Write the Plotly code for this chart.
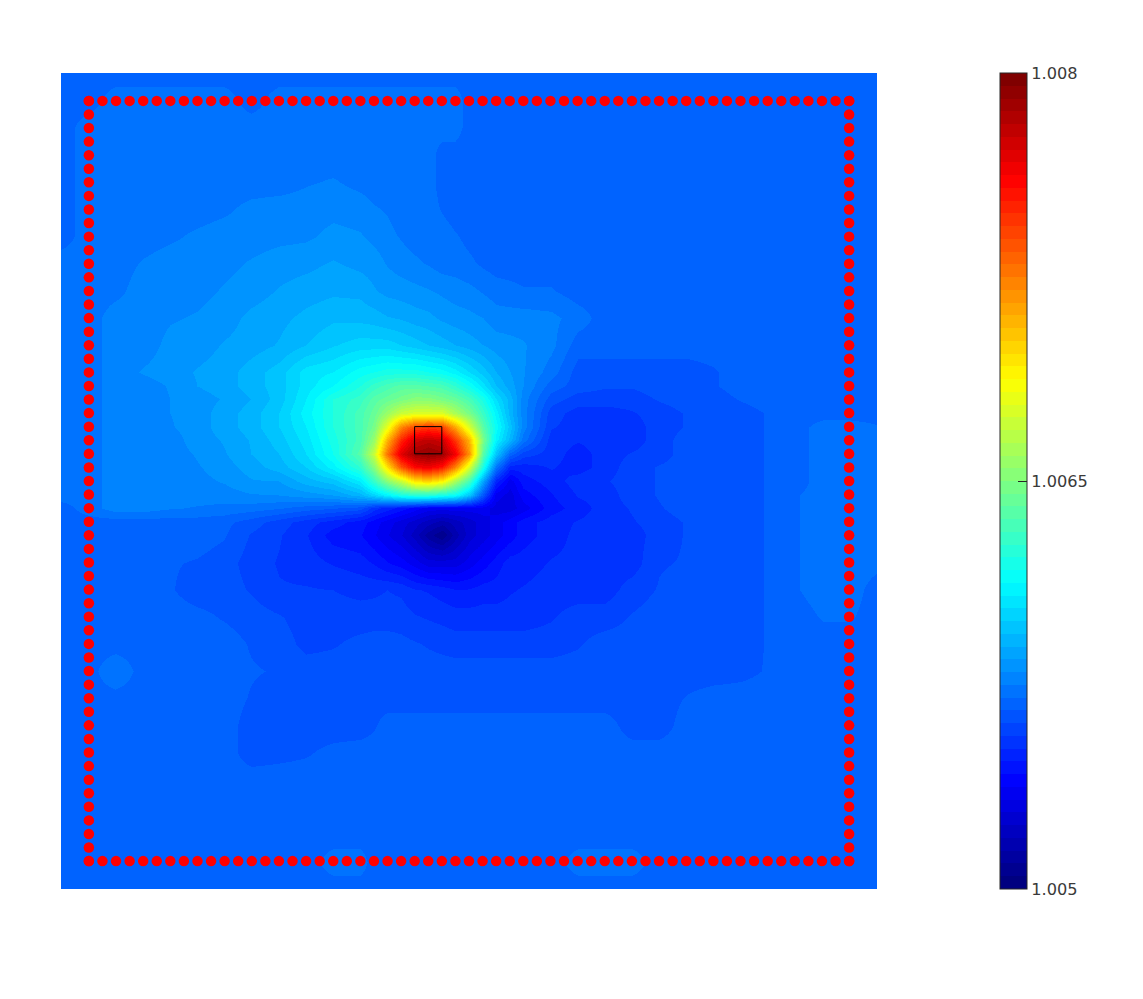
import plotly.graph_objects as go

# grid positions, in cell units (one cell = 1/60 of the panel side)
grid_pos = [0,2,4,6,8,10,12,14,16,18,20,22,
            23,24,25,26,27,28,29,30,31,32,33,34,
            36,38,40,42,44,46,48,50,52,54,56,58,60]

# field, expressed in colormap steps (0..63); one list per row
lv = [
[14,14,14,14,14,14,14,14,14,14,14,14, 14,14,14,14,14,14,14,14,14,14,14,14, 14,14,14,14,14,14,14,14,14,14,14,14,14],
[14,14,15,15,15,15,15,14,15,15,15,15, 15,15,15,15,15,15,15,14,14,14,14,14, 14,14,14,14,14,14,14,14,14,14,14,14,14],
[14,15,15,15,15,15,15,15,15,15,15,15, 15,15,15,15,15,15,15,14,14,14,14,14, 14,14,14,14,14,14,14,14,14,14,14,14,14],
[14,15,15,15,15,15,15,15,15,15,15,15, 15,15,15,15,15,14,14,14,14,14,14,14, 14,14,14,14,14,14,14,14,14,14,14,14,14],
[14,15,15,15,15,15,15,15,15,15.4,15.6,15.2, 15,15,15,15,15,14,14,14,14,14,14,14, 14,14,14,14,14,14,14,14,14,14,14,14,14],
[14,15,15,15,15,15,15.3,15.8,16,16,16.2,16, 15.6,15.4,15,15,15,14.4,14,14,14,14,14,14, 14,14,14,14,14,14,14,14,14,14,14,14,14],
[14,15,15,15,15.3,15.7,16,16,16.2,16.3,16.8,16.6, 16.2,15.8,15.4,15,15,15,14.6,14.2,14,14,14,14, 14,14,14,14,14,14,14,14,14,14,14,14,14],
[15,15,15,15.6,16,16,16.2,16.6,17,17.2,17.6,17.2, 17,16.4,16,15.7,15.4,15,15,14.7,14.3,14,14,14, 14,14,14,14,14,14,14,14,14,14,14,14,14],
[15,15,15.2,16,16,16.2,16.6,17,17.6,18,18.3,18.2, 17.6,17.2,17,16.8,16.6,16.3,16,15.8,15.4,15,14.8,14.6, 14.6,14,14,14,14,14,14,14,14,14,14,14,14],
[15,15,16,16,16.4,16.6,17,17.8,18.2,18.8,19.3,19.2, 19,18.6,18.4,18,17.8,17.3,17,16.8,16.5,16,16,16, 15.8,15,14,14,14,14,14,14,14,14,14,14,14],
[15,15,16,16,16.8,17,17.6,18,18.6,19.5,20.4,21, 21,21,20.5,20,19.5,19,18.5,18,17.5,17,16.8,16.6, 15.8,14,14,14,14,14,14,14,14,14,14,14,14],
[15,15,16,16.6,17,17.6,18,19,20,22,22.5,24, 24.5,25,25,25,24.5,24,23,21.5,20,18.5,17.5,16.6, 15,13,13,13,13,13,13.4,14,14,14,14,14,14],
[15,15,16,16,16.6,17.5,18,19,20,22,23.5,25.5, 27,28,29,29,28.5,28,26.5,24.5,22,19.5,18,16.5, 14,13,12.6,12.6,13,13,13.4,14,14,14,14,14,14],
[15,15,16,16,16.5,17,17.6,18.5,20,22.5,25.5,27, 29,30,31,32,32,31,30,28,25,21.5,19,16, 13,12,12,12,12.6,13,13,13.6,14,14,14,14,14],
[15,15,16,16,16.5,17,18,19,20.5,23,25.5,28, 30,33,36,37,37,37,34,31,27,23,19,16, 12,11,11,11.4,12,12.6,13,13,13.6,14,14,14,14],
[15,15,16,16,16.4,17,18,19,20.5,22.5,25.5,28, 31,38,47,51,52,51,45,37,29,24,20,16, 11.6,11,11,11,12,12.6,13,13,13.6,14,15,15,14.6],
[15,15,16,16,16,17,17.6,18.6,20,22,25,28, 33,44,53,58,59,58,52,44,31,23,19,15, 11,10.6,11,11,12,13,13,13,13.6,14,15,15,15],
[15,15,16,16,16,16.6,17.4,18.5,19.5,21.5,24.5,29, 36,48,57,61,62,61,56,46,29,20,14,12, 11,10,11,11.6,12,13,13,13,13.6,14,15,15,15],
[15,15,16,16,16,16.4,17,18,19,20.5,23,26.5, 32,41,50,55,56,54,47,37,25,15,10,10, 10.6,10,11,12,12.6,13,13,13,13.6,14,15,15,15],
[15,15,16,16,16,16.2,16.6,17.4,17.5,19,20,22.5, 27,32,36,41,42,40,34,28,18,10,7,9, 10,11,11.4,12,12.6,13,13,13,13.6,14,15,15,15],
[15,15,16,16,16,16,16,16.4,16.5,17,17.5,19, 21,23,25,26,26,25,24,20,13,7,6,8, 9.4,10.6,11,12,12.6,13,13,13,13.6,14.4,15,15,15],
[14,15,16,16,15.6,15.4,15.2,15,14.6,14,13.6,13, 11,10,9,8,7,7,7,7,7,6,6,7, 9,10,11,11.6,12.4,13,13,13,13.6,14.4,15,15,15],
[14,14,14,14,14,14,13.8,13,12,11,10,9, 8,7,6,5,4,3,4,5,6,7,8,9, 10,10.6,11,11.4,12,12.6,13,13,13.6,14.4,15,15,15],
[14,14,14,14,14,14,13.6,12.4,11.6,10.6,9,8.6, 7.6,6.6,5.6,4,2,0.6,3,5,6,7,8,9, 10,10.8,11,11,12,12.6,13,13,13.6,14.4,15,15,15],
[14,14,14,14,13.6,13.4,13,12,11.4,11,10.4,10, 9.4,8.6,8,7,6,6,6,7,8,9,10,10, 10.6,10.8,11,11,12.4,12.6,12.6,13,13.6,14.4,15,15,14.8],
[14,14,14,14,13.6,13,13,12.4,11.6,11.6,11.5,11.2, 11.3,11.5,11.3,10.6,10.4,10,9.6,9.6,10,10,10.4,10.6, 11,11,11,12,12.6,13,13,13,13.6,14.4,15,15,14],
[14,14,14,14,14,13.8,13.4,13,12.6,12,12,12, 12,12,12,11.6,11.4,11.2,11,11,11,11,11,11, 11.4,12,12,12.6,13,13,13,13,13.6,14,14.6,14.6,14],
[14,14,14,14,14,14,14,13.4,13,12.2,12.4,12.8, 13,13,12.8,12.6,12.4,12.2,12,12,12,12,12,12, 12,12.4,13,13,13,13,13,13,13.6,14,14,14,14],
[14,14,15.4,14,14,14,14,13.6,13.4,13,13,13, 13,13,13,13,13,13,13,13,13,13,13,13, 13,13,13,13,13,13,13,13.2,13.6,14,14,14,14],
[14,14,14,14,14,14,14,13.4,13,13,13,13, 13,13,13,13,13,13,13,13,13,13,13,13, 13,13,13,13,13,13.6,14,14,14,14,14,14,14],
[14,14,14,14,14,14,14,13,13,13,13,13, 13.4,14,14,14,14,14,14,14,14,14,14,14, 14,14,14,13,13,14,14,14,14,14,14,14,14],
[14,14,14,14,14,14,14,13,13.2,13.4,13.8,14, 14,14,14,14,14,14,14,14,14,14,14,14, 14,14,14,14,14,14,14,14,14,14,14,14,14],
[14,14,14,14,14,14,14,14,14,14,14,14, 14,14,14,14,14,14,14,14,14,14,14,14, 14,14,14,14,14,14,14,14,14,14,14,14,14],
[14,14,14,14,14,14,14,14,14,14,14,14, 14,14,14,14,14,14,14,14,14,14,14,14, 14,14,14,14,14,14,14,14,14,14,14,14,14],
[14,14,14,14,14,14,14,14,14,14,14,14, 14,14,14,14,14,14,14,14,14,14,14,14, 14,14,14,14,14,14,14,14,14,14,14,14,14],
[14,14,14,14,14,14,14,14,14,14,15,15, 14,14,14,14,14,14,14,14,14,14,14,14, 14,15,15,15,14,14,14,14,14,14,14,14,14],
[14,14,14,14,14,14,14,14,14,14,14,14, 14,14,14,14,14,14,14,14,14,14,14,14, 14,14,14,14,14,14,14,14,14,14,14,14,14],
]

z_low = 1.005
z_high = 1.008
n_colors = 64
tick_vals = [1.005, 1.0065, 1.008]
tick_text = ["1.005", "1.0065", "1.008"]

# red sensors along the square (57 per side), and the black source cell
sensor_count = 57
sensor_first = 2.05
sensor_last = 57.95
box_x = [26, 28, 28, 26, 26]
box_y = [26, 26, 28, 28, 26]

step = (z_high - z_low) / n_colors
z = [[z_low + (v + 0.5) * step for v in row] for row in lv]


def clip01(v):
    return max(0.0, min(1.0, v))


def jet_color(k):
    t = k / (n_colors - 1)
    r = clip01(1.5 - abs(4 * t - 3))
    g = clip01(1.5 - abs(4 * t - 2))
    b = clip01(1.5 - abs(4 * t - 1))
    return f"rgb({round(r*255)},{round(g*255)},{round(b*255)})"


colorscale = []
for k in range(n_colors):
    colorscale.append([k / n_colors, jet_color(k)])
    colorscale.append([(k + 1) / n_colors, jet_color(k)])

side = [sensor_first + i * (sensor_last - sensor_first) / (sensor_count - 1) for i in range(sensor_count)]
sx = side + [sensor_last] * sensor_count + side + [sensor_first] * sensor_count
sy = [sensor_first] * sensor_count + side + [sensor_last] * sensor_count + side

fig = go.Figure()
fig.add_trace(go.Heatmap(
    x=grid_pos, y=grid_pos, z=z, zmin=z_low, zmax=z_high, zsmooth="best",
    colorscale=colorscale, hoverinfo="skip",
    colorbar=dict(
        x=(1000 - 61) / 816, xanchor="left", xpad=0, y=0.5, yanchor="middle", ypad=0,
        len=1, lenmode="fraction", thickness=26.5, thicknessmode="pixels",
        tickmode="array", tickvals=tick_vals, ticktext=tick_text,
        ticks="inside", ticklen=9, tickwidth=1, tickcolor="#262626",
        tickfont=dict(family="DejaVu Sans", size=16.2, color="#3a3a3a"),
        outlinecolor="#262626", outlinewidth=1, borderwidth=0,
    ),
))
fig.add_trace(go.Scatter(
    x=sx, y=sy, mode="markers",
    marker=dict(color="#ff0000", size=10.5, line=dict(width=0)),
    hoverinfo="skip", showlegend=False,
))
fig.add_trace(go.Scatter(
    x=box_x, y=box_y, mode="lines",
    line=dict(color="#000000", width=1),
    hoverinfo="skip", showlegend=False,
))
fig.update_xaxes(range=[0, 60], visible=False, constrain="domain")
fig.update_yaxes(range=[60, 0], visible=False)
fig.update_layout(
    width=1127, height=983,
    margin=dict(l=53, r=258, t=65, b=102, pad=0),
    paper_bgcolor="white", plot_bgcolor="white",
    showlegend=False,
)
fig.write_html("out.html")
